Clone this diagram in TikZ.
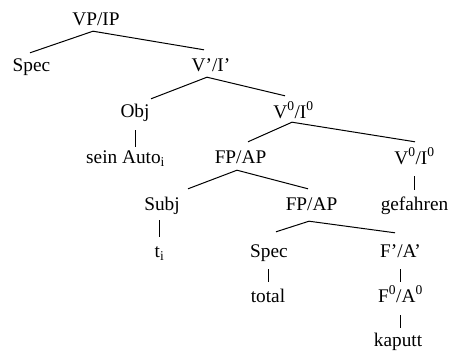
\documentclass[tikz,border=0pt]{standalone}
\usepackage{fontspec}
\setmainfont{Liberation Serif}
\usetikzlibrary{calc}
\tikzset{
  lab/.style={anchor=base, inner sep=0pt, text height=13pt, text depth=0pt,
              font=\fontsize{19.3}{22}\selectfont},
  br/.style={line width=1pt, draw=black}
}
\begin{document}
\begin{tikzpicture}[x=1pt,y=-1pt]
\useasboundingbox (0,0) rectangle (452,351);
% nodes
\node[lab] (vpip)  at (96,25)    {VP/IP};
\node[lab] (spec1) at (31.5,71)  {Spec};
\node[lab] (vbar)  at (211,71)   {V’/I’};
\node[lab] (obj)   at (135,117)  {Obj};
\node[lab,anchor=base west] (auto) at (86,163) {sein Auto\textsubscript{i}};
\node[lab] (v0)    at (293.5,118) {V\textsuperscript{0}/I\textsuperscript{0}};
\node[lab] (fpap1) at (240.5,163) {FP/AP};
\node[lab] (v0r)   at (414.5,164) {V\textsuperscript{0}/I\textsuperscript{0}};
\node[lab] (subj)  at (162,210)  {Subj};
\node[lab] (fpap2) at (311.5,210) {FP/AP};
\node[lab] (gef)   at (414.5,210) {gefahren};
\node[lab] (ti)    at (159.5,257) {t\textsubscript{i}};
\node[lab] (spec2) at (269,257)  {Spec};
\node[lab] (fbar)  at (400.5,257) {F’/A’};
\node[lab] (total) at (268,302)  {total};
\node[lab] (f0)    at (400.5,302) {F\textsuperscript{0}/A\textsuperscript{0}};
\node[lab] (kap)   at (398,346)  {kaputt};
% branches
\draw[br] ([shift={(-3pt,-6pt)}]vpip.south) -- ([shift={(-1.5pt,5pt)}]spec1.north);
\draw[br] ([shift={(-3pt,-6pt)}]vpip.south) -- ([shift={(-7pt,8pt)}]vbar.north);
\draw[br] ([shift={(-4pt,-6pt)}]vbar.south) -- ([shift={(16pt,5pt)}]obj.north);
\draw[br] ([shift={(-4pt,-6pt)}]vbar.south) -- ([shift={(-8.5pt,9pt)}]v0.north);
\draw[br] ([shift={(-1.5pt,-4pt)}]v0.south) -- ([shift={(7.5pt,8pt)}]fpap1.north);
\draw[br] ([shift={(-1.5pt,-4pt)}]v0.south) -- ([shift={(0.5pt,9pt)}]v0r.north);
\draw[br] ([shift={(-3.5pt,-7pt)}]fpap1.south) -- ([shift={(26pt,8pt)}]subj.north);
\draw[br] ([shift={(-3.5pt,-7pt)}]fpap1.south) -- ([shift={(-3.5pt,8pt)}]fpap2.north);
\draw[br] ([shift={(-2.5pt,-11pt)}]fpap2.south) -- ([shift={(7pt,12pt)}]spec2.north);
\draw[br] ([shift={(-2.5pt,-11pt)}]fpap2.south) -- ([shift={(-5.5pt,11pt)}]fbar.north);
% vertical lines
\draw[br] ([yshift=-13pt]obj.south) -- ($(obj.south |- auto.north)+(0pt,3pt)$);
\draw[br] ([yshift=-12pt]v0r.south) -- ([yshift=7pt]gef.north);
\draw[br] ([shift={(-2.5pt,-10pt)}]subj.south) -- ([yshift=7pt]ti.north);
\draw[br] ([shift={(-1pt,-12pt)}]spec2.south) -- ([yshift=7pt]total.north);
\draw[br] ([yshift=-12pt]fbar.south) -- ([yshift=7pt]f0.north);
\draw[br] ([yshift=-13pt]f0.south) -- ($(f0.south |- kap.north)+(0pt,5pt)$);
\end{tikzpicture}
\end{document}
